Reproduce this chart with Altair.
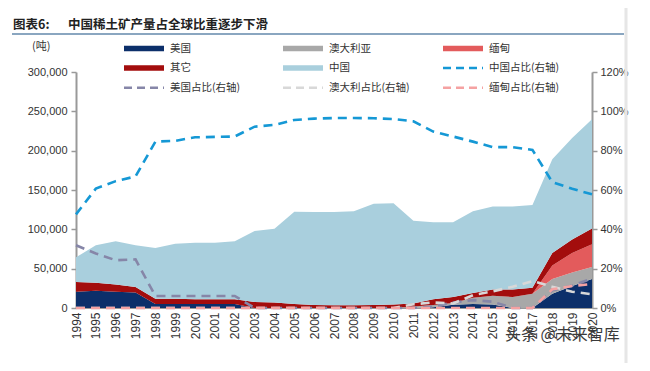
import altair as alt
import pandas as pd

years = list(range(1994, 2021))

# production (tonnes)
usa = [20700, 22000, 20600, 19700, 5000, 5000, 5000, 5000, 5000, 0, 0, 0, 0, 0, 0, 0, 0,
       0, 800, 4000, 5000, 4500, 0, 0, 18000, 28000, 37000]
australia = [0] * 17 + [2000, 3000, 2500, 8000, 11000, 14000, 18000, 19000, 17000, 15000]
myanmar = [0] * 24 + [17000, 25000, 29000]
others = [12300, 10000, 9400, 7000, 6900, 6900, 6000, 6000, 6000, 7600, 7000, 5000, 3800,
          3500, 3500, 3800, 4500, 3700, 7400, 7500, 6000, 8000, 9500, 7700, 16000, 17000, 20000]
china = [31400, 47700, 54800, 53000, 64400, 69900, 72000, 72000, 74000, 90400, 93800, 117400,
         118200, 118500, 119500, 128700, 128500, 105300, 97800, 95000, 104000, 105500, 105500,
         105300, 119000, 129000, 139000]

# shares (%)
china_share = [47.6, 60.7, 64.5, 66.9, 84.6, 85.0, 86.8, 87.0, 87.2, 92.2, 93.1, 95.6, 96.3,
               96.6, 96.6, 96.5, 96.1, 94.9, 89.7, 87.2, 84.6, 81.8, 81.8, 80.4, 64.0, 60.6, 57.8]
usa_share = [31.9, 27.7, 24.3, 24.7, 6.1, 6.1, 6.1, 6.1, 6.1, 0, 0, 0, 0, 0, 0, 0, 0, 0,
             0.7, 2.8, 4.0, 3.2, 0, 0, 9.0, 11.3, 15.0]
australia_share = [0] * 17 + [1.9, 2.8, 2.3, 6.5, 8.5, 10.8, 13.7, 10.8, 8.3, 7.0]
myanmar_share = [0] * 24 + [9.5, 11.2, 12.2]

area_names = ["美国", "澳大利亚", "缅甸", "其它", "中国"]
area_colors = ["#0c2f6a", "#a8a8a8", "#e35b5c", "#a30d0d", "#a9cfdd"]
line_names = ["美国占比(右轴)", "澳大利占比(右轴)", "缅甸占比(右轴)", "中国占比(右轴)"]
line_colors = ["#8686a8", "#d8d8d8", "#f5a2a2", "#1598d5"]

title_prefix = "图表6:"
title_text = "中国稀土矿产量占全球比重逐步下滑"
unit_text = "(吨)"
watermark = "头条 @未来智库"

FONT = "Liberation Sans"
CJK = "Noto Sans CJK SC"

rows = []
for i, vals in enumerate([usa, australia, myanmar, others, china]):
    for yr, v in zip(years, vals):
        rows.append({"year": yr, "series": area_names[i], "value": v, "ord": i})
area_df = pd.DataFrame(rows)

x_enc = alt.X(
    "year:O",
    scale=alt.Scale(type="point", padding=0),
    axis=alt.Axis(title=None, labelAngle=270, labelFontSize=12, labelColor="#333",
                  labelFont=FONT, ticks=False, labelPadding=4, domainColor="#999",
                  domainWidth=1),
)

area = alt.Chart(area_df).mark_area(interpolate="linear", opacity=1).encode(
    x=x_enc,
    y=alt.Y("value:Q", stack="zero",
            scale=alt.Scale(domain=[0, 300000], nice=False),
            axis=alt.Axis(title=None, values=[0, 50000, 100000, 150000, 200000, 250000, 300000],
                          format=",d", labelFontSize=11, labelColor="#333", labelFont=FONT,
                          domainColor="#999", domainWidth=2, tickColor="#999", tickSize=5,
                          tickWidth=1.5, labelPadding=4, grid=False)),
    color=alt.Color("series:N", scale=alt.Scale(domain=area_names, range=area_colors), legend=None),
    order=alt.Order("ord:Q", sort="ascending"),
)

y_right = alt.Y("share:Q", scale=alt.Scale(domain=[0, 1.2], nice=False),
                axis=alt.Axis(title=None, orient="right", values=[0, 0.2, 0.4, 0.6, 0.8, 1.0, 1.2],
                              format=".0%", labelFontSize=11, labelColor="#333", labelFont=FONT,
                              domainColor="#999", domainWidth=2, tickColor="#999", tickSize=5,
                              tickWidth=1.5, labelPadding=3, grid=False))

line_layers = []
for name, col, vals in zip(line_names, line_colors,
                           [usa_share, australia_share, myanmar_share, china_share]):
    df = pd.DataFrame({"year": years, "share": [v / 100 for v in vals]})
    line_layers.append(
        alt.Chart(df).mark_line(color=col, strokeWidth=2.6, strokeDash=[9, 6]).encode(
            x=alt.X("year:O", scale=alt.Scale(type="point", padding=0)),
            y=y_right,
        )
    )
lines = alt.layer(*line_layers)

one = alt.InlineData(values=[{"a": 1}])


def txt(s, x, y, size, color="#333", weight="normal", align="left", font=CJK):
    return alt.Chart(one).mark_text(align=align, baseline="middle", fontSize=size, color=color,
                                    fontWeight=weight, font=font).encode(
        x=alt.value(x), y=alt.value(y), text=alt.value(s))


def rule(x1, x2, y1, y2, color, width, dash=None):
    kw = {"color": color, "strokeWidth": width}
    if dash:
        kw["strokeDash"] = dash
    return alt.Chart(one).mark_rule(**kw).encode(
        x=alt.value(x1), x2=alt.value(x2), y=alt.value(y1), y2=alt.value(y2))


# plot origin is at page (76, 72)
OX, OY = 76, 72
overlay = []
overlay.append(txt(title_prefix, 13 - OX, 25 - OY, 12.5, "#222", "bold"))
overlay.append(txt(title_text, 68 - OX, 25 - OY, 12.5, "#222", "bold"))
overlay.append(rule(12 - OX, 624 - OX, 34 - OY, 34 - OY, "#8aa6c0", 2))
overlay.append(rule(626 - OX, 626 - OX, 0 - OY, 371 - OY, "#e6e6e6", 3))
overlay.append(txt(unit_text, 32 - OX, 47 - OY, 11, "#333"))

col_x = [124, 283, 443]
row_y = [48.5, 68, 87.7]
legend_items = [
    (area_names[0], area_colors[0], "area"), (area_names[1], area_colors[1], "area"),
    (area_names[2], area_colors[2], "area"),
    (area_names[3], area_colors[3], "area"), (area_names[4], area_colors[4], "area"),
    (line_names[3], line_colors[3], "line"),
    (line_names[0], line_colors[0], "line"), (line_names[1], line_colors[1], "line"),
    (line_names[2], line_colors[2], "line"),
]
for k, (lab, colr, kind) in enumerate(legend_items):
    cx = col_x[k % 3] - OX
    cy = row_y[k // 3] - OY
    if kind == "area":
        overlay.append(rule(cx, cx + 40, cy, cy, colr, 5.5))
    else:
        overlay.append(rule(cx, cx + 40, cy, cy, colr, 2.6, [8, 5]))
    overlay.append(txt(lab, cx + 46, cy, 10.5, "#333"))

overlay.append(txt(watermark, 505 - OX, 335 - OY, 16, "#3a3a3a"))

main = alt.layer(area, lines).resolve_scale(y="independent")
chart = alt.layer(main, *overlay).properties(
    width=516, height=236,
    padding={"left": 68, "top": 64, "right": 42, "bottom": 55},
    autosize=alt.AutoSizeParams(type="none"),
).configure_view(strokeWidth=0)

chart.save("out.html", embed_options={"renderer": "svg", "actions": False})
